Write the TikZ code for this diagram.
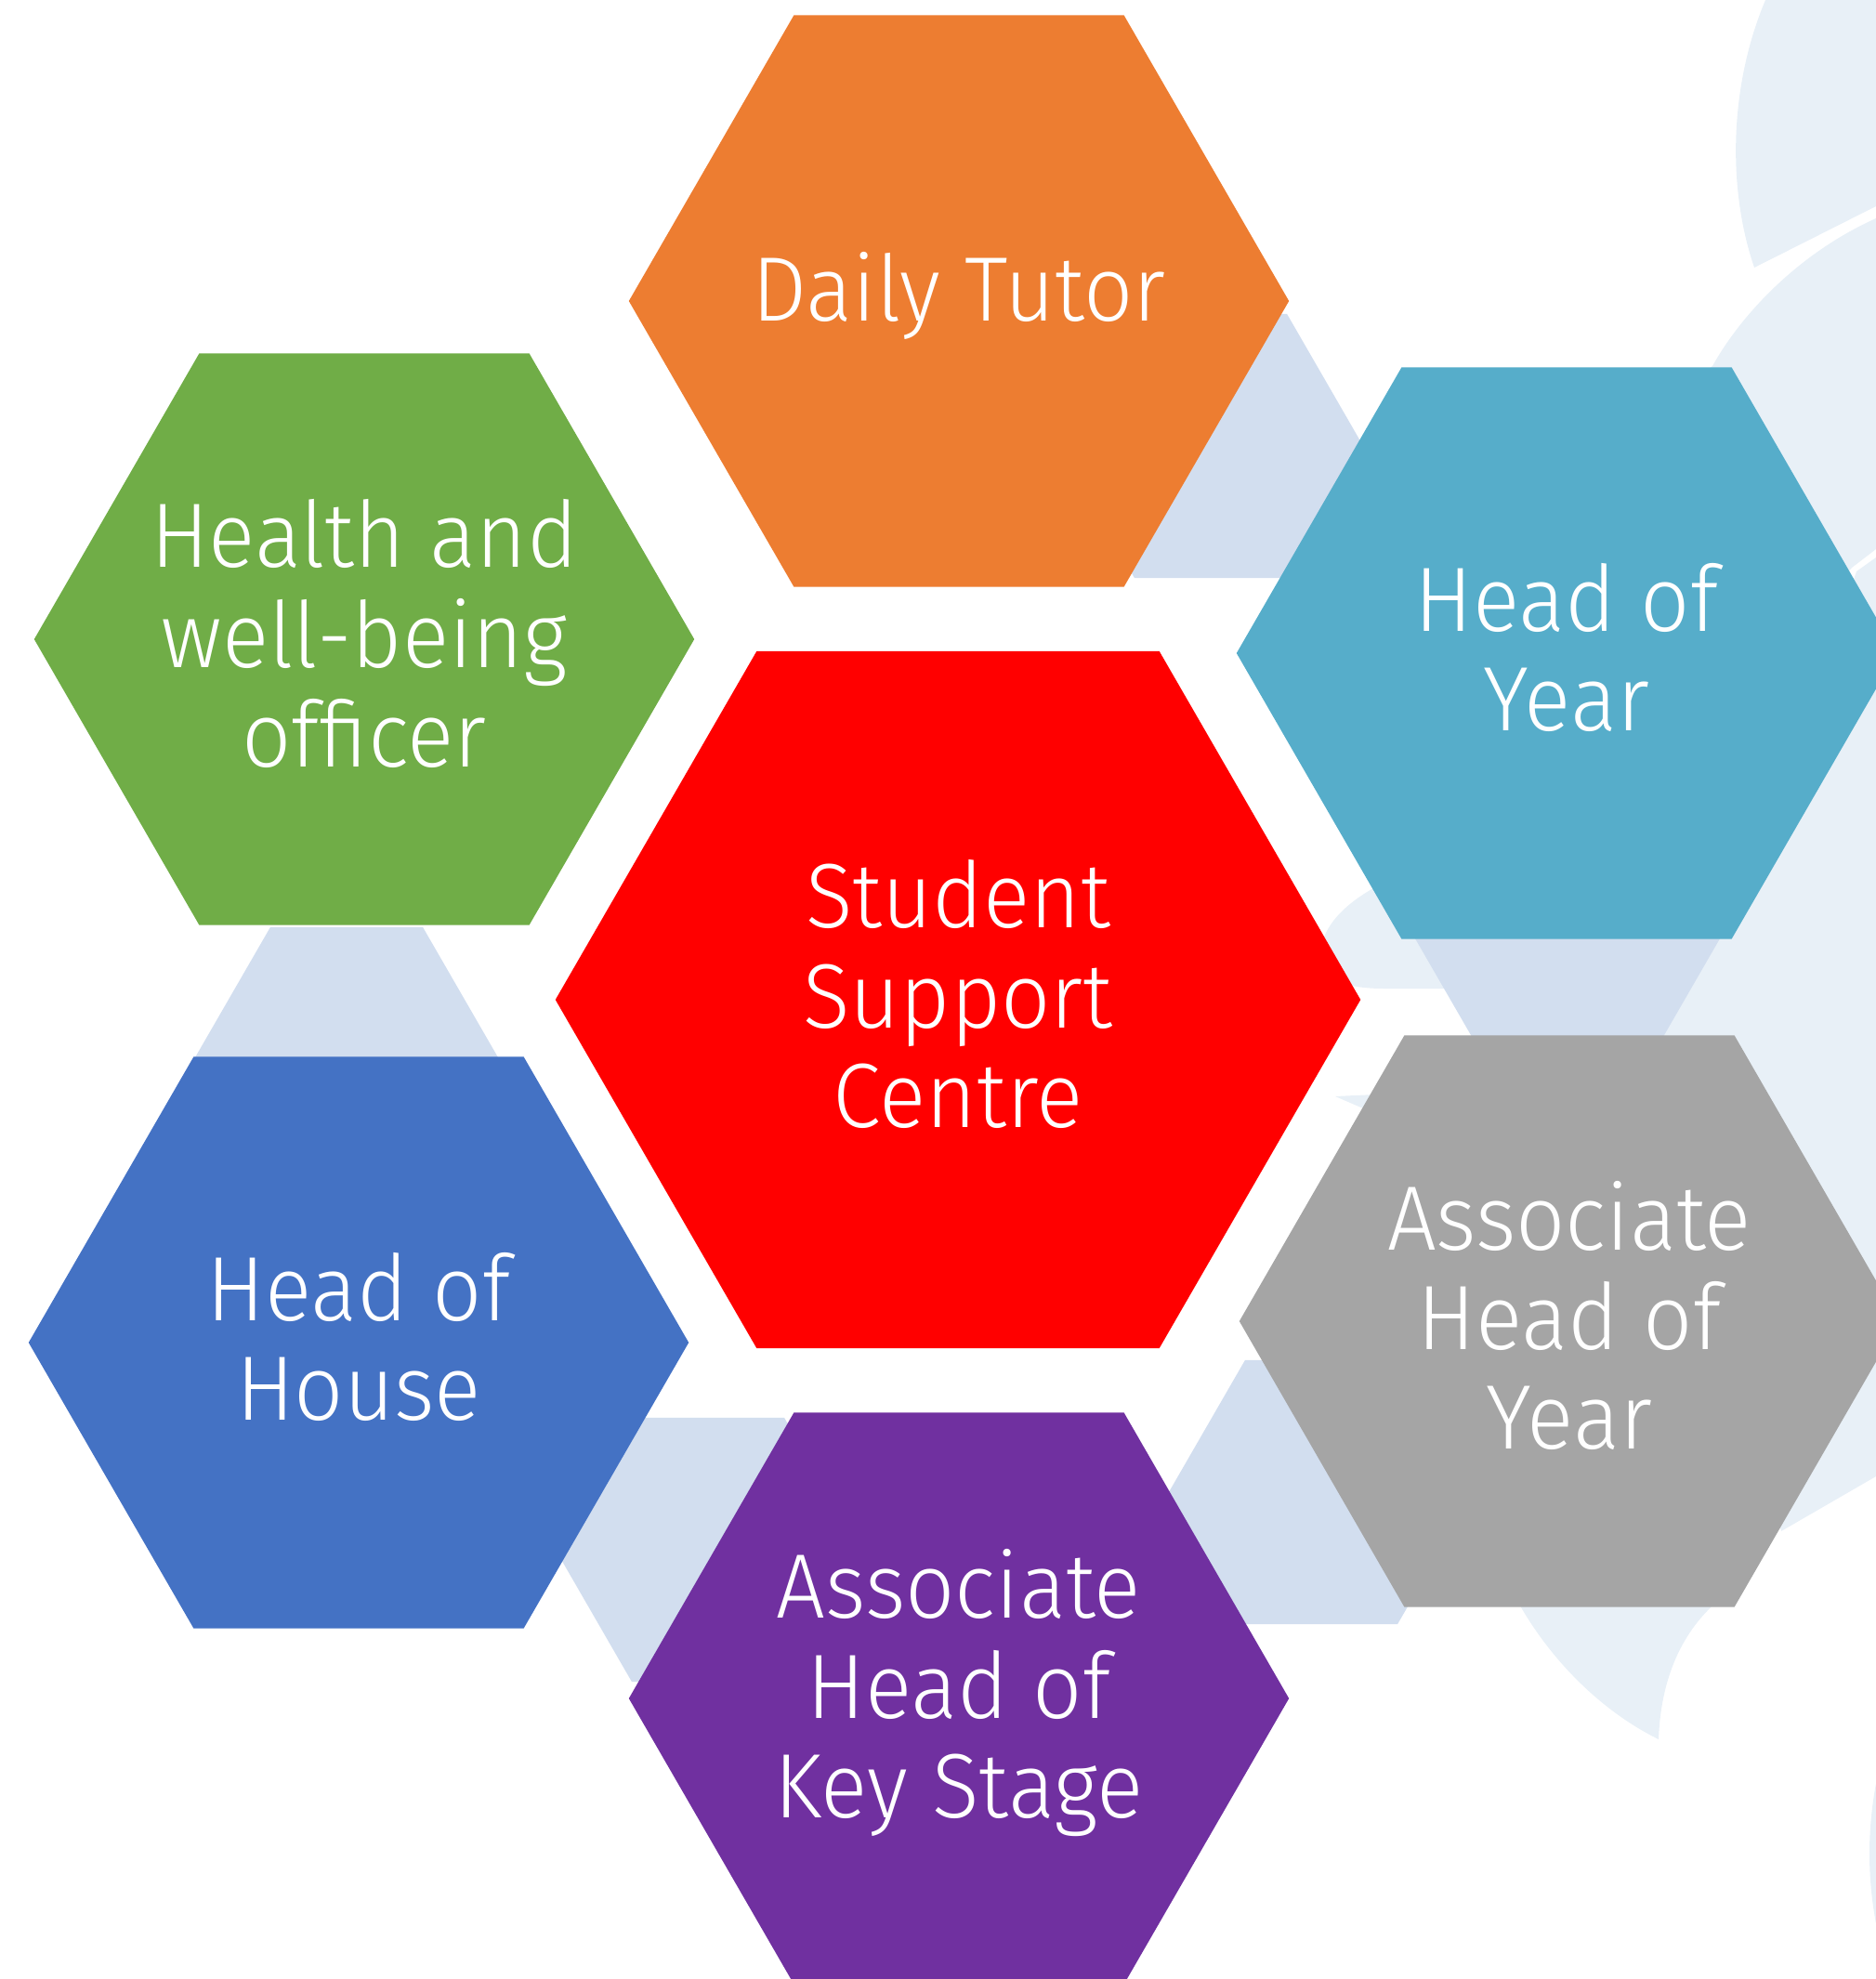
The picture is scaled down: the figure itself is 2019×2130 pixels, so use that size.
\documentclass[tikz,border=0pt]{standalone}
\usepackage{fontspec}
\setmainfont{Fira Sans}[UprightFont=* Light, FakeStretch=0.95]
\usetikzlibrary{shapes.geometric}

\definecolor{tutorc}{HTML}{ED7D31}
\definecolor{healthc}{HTML}{70AD47}
\definecolor{hoyc}{HTML}{56ADCA}
\definecolor{ahoyc}{HTML}{A5A5A5}
\definecolor{housec}{HTML}{4472C4}
\definecolor{ahksc}{HTML}{7030A0}
\definecolor{centrec}{HTML}{FF0000}
\definecolor{gapc}{HTML}{D2DEEF}
\definecolor{wmc}{HTML}{E8F0F7}

\begin{document}
\begin{tikzpicture}[
    x = 0.01cm, y = -0.01cm, % one unit per pixel, y pointing down
    hexa/.style = {
        regular polygon,
        regular polygon sides = 6,
        inner sep = 0pt, outer sep = 0pt,
        minimum size = 7.1cm % outer hexagons
        },
    txt/.style = {
        text = white,
        align = center,
        inner sep = 0pt,
        yshift = 0.06cm,
        font = \fontsize{28}{30.5}\selectfont
        },
    gap/.style = {
        regular polygon,
        regular polygon sides = 6,
        inner sep = 0pt,
        fill = gapc,
        minimum size = 3.28cm % small hexagons in between
        },
    wm/.style = {fill = wmc} % faint background shapes
    ]

    \useasboundingbox (0,0) rectangle (2019,2130);
    \clip (0,0) rectangle (2019,2130);

    % background watermark
    \fill[wm] (1900,0) .. controls (1862,90) and (1858,200) .. (1888,288) -- (2019,222) -- (2019,0) -- cycle;
    \fill[wm] (2019,235) .. controls (1930,275) and (1870,345) .. (1843,394) -- (1700,520) -- (1478,956)
        .. controls (1450,972) and (1428,992) .. (1422,1018)
        .. controls (1418,1048) and (1435,1064) .. (1490,1064)
        -- (1600,1064) -- (1750,900) -- (1993,611) -- (2019,591) -- cycle;
    \fill[wm] (2019,600) -- (1998,615) -- (1900,900) -- (1790,1020) -- (1780,1120) -- (1917,1648) -- (2019,1589) -- cycle;
    \fill[wm] (1437,1180) -- (1480,1178) -- (1800,1400) -- (1850,1722)
        .. controls (1805,1760) and (1787,1815) .. (1785,1872)
        .. controls (1730,1845) and (1675,1795) .. (1637,1730)
        -- (1520,1400) -- (1474,1196) -- cycle;
    \fill[wm] (2417,1995) circle (405);

    % small hexagons
    \node[gap] (g1) at (1303,480) {};
    \node[gap] (g2) at (1687,1010) {};
    \node[gap] (g3) at (1422,1606) {};
    \node[gap] (g4) at (762,1668) {};
    \node[gap] (g5) at (373,1140) {};

    % outer hexagons
    \node[hexa, fill = tutorc] (tutor) at (1032,324) {};
    \node[hexa, fill = healthc] (health) at (392,688) {};
    \node[hexa, fill = hoyc] (hoy) at (1686,703) {};
    \node[hexa, fill = ahoyc] (ahoy) at (1689,1422) {};
    \node[hexa, fill = housec] (house) at (386,1445) {};
    \node[hexa, fill = ahksc] (ahks) at (1032,1828) {};

    % centre
    \node[hexa, fill = centrec, minimum size = 8.66cm] (centre) at (1031,1076) {};

    % texts
    \node[txt] (tutor-t) at (tutor) {Daily Tutor};
    \node[txt] (health-t) at (health) {Health and\\well-being\\officer};
    \node[txt] (hoy-t) at (hoy) {Head of\\Year};
    \node[txt] (ahoy-t) at (ahoy) {Associate\\Head of\\Year};
    \node[txt] (house-t) at (house) {Head of\\House};
    \node[txt] (ahks-t) at (ahks) {Associate\\Head of\\Key Stage};
    \node[txt] (centre-t) at (centre) {Student\\Support\\Centre};

\end{tikzpicture}
\end{document}
